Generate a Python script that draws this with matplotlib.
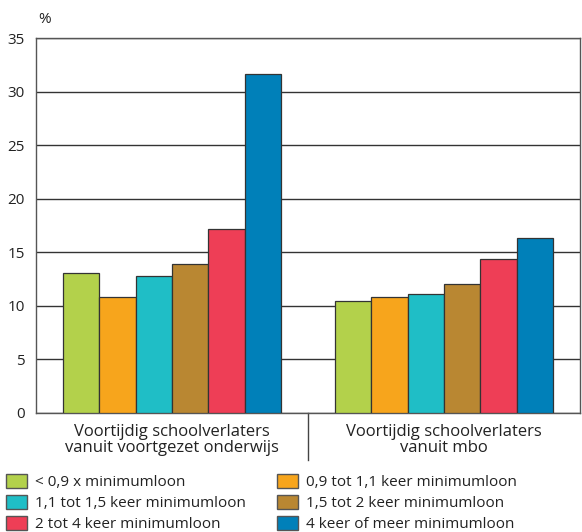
import numpy as np
import matplotlib.pyplot as plt
from matplotlib.patches import Patch

plt.rcParams['font.family'] = ['Open Sans', 'DejaVu Sans']

groups = ["Voortijdig schoolverlaters\nvanuit voortgezet onderwijs",
          "Voortijdig schoolverlaters\nvanuit mbo"]
series = ["< 0,9 x minimumloon", "0,9 tot 1,1 keer minimumloon",
          "1,1 tot 1,5 keer minimumloon", "1,5 tot 2 keer minimumloon",
          "2 tot 4 keer minimumloon", "4 keer of meer minimumloon"]
values = [
    [13.1, 10.5],
    [10.8, 10.8],
    [12.8, 11.1],
    [13.9, 12.0],
    [17.2, 14.4],
    [31.6, 16.3],
]
colors = ["#b3d14b", "#f7a51c", "#1fbec6", "#b98732", "#ee3e56", "#0080b9"]
yticks = [0, 5, 10, 15, 20, 25, 30, 35]

fig = plt.figure(figsize=(5.82, 5.32), dpi=100)
ax = fig.add_axes([36/582, 1 - 413/532, 544/582, 375/532])

x = np.arange(len(groups))
w = 0.8 / len(series)
for i, (vals, c) in enumerate(zip(values, colors)):
    ax.bar(x - 0.4 + w * (i + 0.5), vals, width=w, color=c,
           edgecolor="#333333", linewidth=0.9, zorder=3)

ax.set_xlim(-0.5, 1.5)
ax.set_ylim(0, 35)
ax.set_yticks(yticks)
ax.tick_params(axis='y', length=0, labelsize=11, pad=8, colors="#222222")
ax.yaxis.grid(True, color="#333333", linewidth=1.0, zorder=0)
ax.set_xticks([])
for s in ax.spines.values():
    s.set_color("#555555")
    s.set_linewidth(1.0)

# group labels and separator
for xi, g in zip(x, groups):
    ax.text(xi, -1.0, g, ha='center', va='top', fontsize=12, color="#222222",
            linespacing=1.05)
ax.plot([0.5, 0.5], [0, -4.4], color="#444444", linewidth=1.0, clip_on=False)

ax.text(-0.49, 36.0, "%", ha='left', va='bottom', fontsize=11,
        color="#222222")

handles = [Patch(facecolor=c, edgecolor="#555555", label=s)
           for s, c in zip(series, colors)]
order = [0, 2, 4, 1, 3, 5]
fig.legend([handles[i] for i in order], [series[i] for i in order],
           loc='lower left', bbox_to_anchor=(0.0, -0.012), ncol=2,
           frameon=False, fontsize=11, handlelength=1.4, handleheight=1.1,
           handletextpad=0.5, columnspacing=2.0, labelspacing=0.3,
           borderaxespad=0.0, labelcolor="#222222")

fig.savefig("out.png", dpi=100)
